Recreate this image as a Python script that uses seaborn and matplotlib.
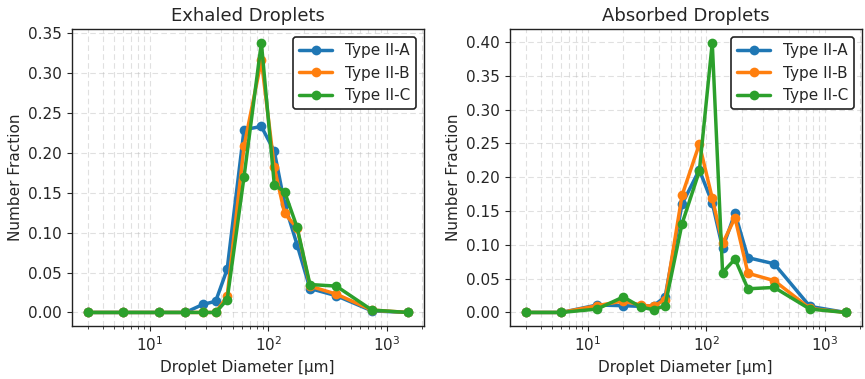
import numpy as np
import pandas as pd
import seaborn as sns
import matplotlib.pyplot as plt

# droplet diameter bins [um]
diameters = [3, 6, 12, 20, 28, 36, 45, 62.5, 87.5, 112.5, 137.5, 175, 225, 375, 750, 1500]
types = ["Type II-A", "Type II-B", "Type II-C"]

# exhaled number fractions
exh_a = [0, 0, 0, 0, 0.010, 0.014, 0.054, 0.229, 0.233, 0.202, 0.136, 0.085, 0.030, 0.021, 0.002, 0]
exh_b = [0, 0, 0, 0, 0, 0, 0.020, 0.208, 0.316, 0.182, 0.124, 0.106, 0.033, 0.023, 0.003, 0]
exh_c = [0, 0, 0, 0, 0, 0, 0.016, 0.170, 0.338, 0.160, 0.151, 0.107, 0.035, 0.033, 0.003, 0]

# absorbed number fractions
abs_a = [0, 0, 0.011, 0.010, 0.009, 0.010, 0.023, 0.160, 0.211, 0.162, 0.095, 0.147, 0.081, 0.072, 0.009, 0]
abs_b = [0, 0, 0.010, 0.017, 0.011, 0.009, 0.019, 0.173, 0.249, 0.169, 0.102, 0.140, 0.058, 0.047, 0.006, 0]
abs_c = [0, 0, 0.005, 0.023, 0.008, 0.004, 0.010, 0.131, 0.209, 0.399, 0.059, 0.079, 0.035, 0.037, 0.005, 0]


def to_long(series_list):
    frames = []
    for name, vals in zip(types, series_list):
        frames.append(pd.DataFrame({"diameter": diameters, "fraction": vals, "type": name}))
    return pd.concat(frames, ignore_index=True)


df_exh = to_long([exh_a, exh_b, exh_c])
df_abs = to_long([abs_a, abs_b, abs_c])

sns.set_style("ticks")
plt.rcParams["font.family"] = ["DejaVu Sans"]

fig, (ax1, ax2) = plt.subplots(1, 2, figsize=(8.65, 3.79), dpi=100)
palette = sns.color_palette("tab10", 3)

for ax, df, title in [(ax1, df_exh, "Exhaled Droplets"), (ax2, df_abs, "Absorbed Droplets")]:
    sns.lineplot(data=df, x="diameter", y="fraction", hue="type", hue_order=types,
                 palette=palette, marker="o", markersize=7, markeredgewidth=0,
                 linewidth=2.5, ax=ax)
    ax.set_xscale("log")
    ax.set_title(title, fontsize=13)
    ax.set_xlabel("Droplet Diameter [\u03bcm]", fontsize=11)
    ax.set_ylabel("Number Fraction", fontsize=11)
    ax.tick_params(axis="both", labelsize=11)
    ax.grid(True, which="both", linestyle=(0, (5, 3)), color="#bbbbbb", linewidth=0.8, alpha=0.45)
    for sp in ax.spines.values():
        sp.set_color("#222222")
        sp.set_linewidth(1.0)
    handles, labels = ax.get_legend_handles_labels()
    leg = ax.legend(handles, labels, loc="upper right", fontsize=11, frameon=True,
                    edgecolor="#222222", framealpha=1, handlelength=2.2)
    leg.get_frame().set_linewidth(1.2)

ax1.set_yticks(np.arange(0, 0.36, 0.05))
ax2.set_yticks(np.arange(0, 0.41, 0.05))

fig.subplots_adjust(left=0.083, right=0.996, top=0.923, bottom=0.14, wspace=0.245)
fig.savefig("out.png", dpi=100)
